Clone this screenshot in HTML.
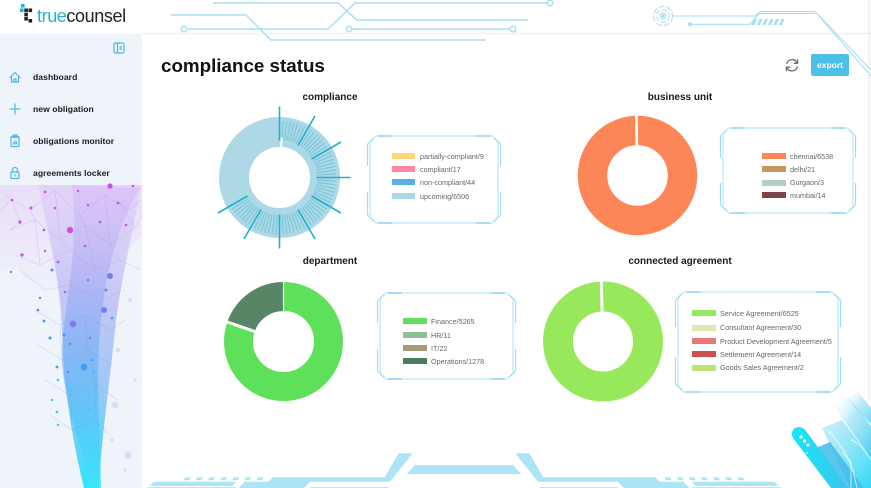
<!DOCTYPE html>
<html><head><meta charset="utf-8">
<style>
*{margin:0;padding:0;box-sizing:border-box}
html,body{width:871px;height:488px;overflow:hidden;background:#fff;font-family:"Liberation Sans",Arial,sans-serif}
#root{position:relative;width:871px;height:488px;background:#fff;overflow:hidden}
.abs{position:absolute;white-space:nowrap}
.nav{position:absolute;left:33px;font-size:8.6px;font-weight:bold;color:#1a1a1a;line-height:10px;letter-spacing:0.05px}
.ct{position:absolute;font-size:10px;font-weight:bold;color:#1a1a1a;line-height:10px;text-align:center;width:200px}
.lg{position:absolute;font-size:7.2px;color:#666;line-height:9px;white-space:nowrap}
.sw{position:absolute;width:24px;height:6px}
</style></head>
<body><div id="root">
<svg class="abs" style="left:0;top:0" width="871" height="488" viewBox="0 0 871 488" xmlns="http://www.w3.org/2000/svg">
<defs>
<linearGradient id="wave" x1="0" y1="0" x2="0" y2="1">
<stop offset="0" stop-color="#c9a0f4" stop-opacity="0.18"/>
<stop offset="0.35" stop-color="#8a86f0" stop-opacity="0.4"/>
<stop offset="0.7" stop-color="#4fa8f4" stop-opacity="0.55"/>
<stop offset="1" stop-color="#22e8fb" stop-opacity="0.95"/>
</linearGradient>
<linearGradient id="wave2" x1="0" y1="0" x2="0" y2="1">
<stop offset="0" stop-color="#b77df0" stop-opacity="0.15"/>
<stop offset="0.5" stop-color="#5c9cf3" stop-opacity="0.4"/>
<stop offset="1" stop-color="#3de6fa" stop-opacity="0.85"/>
</linearGradient>
<linearGradient id="mesh" x1="0" y1="0" x2="0" y2="1">
<stop offset="0" stop-color="#dcb6f5" stop-opacity="0.35"/>
<stop offset="1" stop-color="#dcb6f5" stop-opacity="0"/>
</linearGradient>
<linearGradient id="pill" x1="0" y1="0" x2="1" y2="0">
<stop offset="0" stop-color="#18e6f8"/>
<stop offset="1" stop-color="#3cc4ee"/>
</linearGradient>
<linearGradient id="bandg" x1="0" y1="0" x2="1" y2="1">
<stop offset="0" stop-color="#ffffff" stop-opacity="0"/>
<stop offset="0.45" stop-color="#7fd8f4" stop-opacity="0.7"/>
<stop offset="1" stop-color="#2cc6ef" stop-opacity="1"/>
</linearGradient>
<linearGradient id="bandg2" x1="0" y1="0" x2="1" y2="1">
<stop offset="0" stop-color="#8fdcf5" stop-opacity="0.5"/>
<stop offset="1" stop-color="#18d6f5" stop-opacity="1"/>
</linearGradient>
<g id="st">
<g stroke="#7cc7dc" stroke-width="1.2">
<line x1="0" y1="-37.5" x2="0" y2="-57" transform="rotate(3.75)"/>
<line x1="0" y1="-37.5" x2="0" y2="-57" transform="rotate(7.5)"/>
<line x1="0" y1="-37.5" x2="0" y2="-57" transform="rotate(11.25)"/>
<line x1="0" y1="-37.5" x2="0" y2="-57" transform="rotate(15)"/>
<line x1="0" y1="-37.5" x2="0" y2="-57" transform="rotate(18.75)"/>
<line x1="0" y1="-37.5" x2="0" y2="-57" transform="rotate(22.5)"/>
<line x1="0" y1="-37.5" x2="0" y2="-57" transform="rotate(26.25)"/>
</g>
</g>
<line id="lt" x1="0" y1="-37" x2="0" y2="-71" stroke="#1fb0cc" stroke-width="1.6"/>
</defs>

<!-- sidebar -->
<rect x="0" y="34" width="142" height="454" fill="#eff3fa"/>
<line x1="142" y1="33.5" x2="871" y2="33.5" stroke="#f1f2f4" stroke-width="1.5"/>
<line x1="869" y1="0" x2="869" y2="400" stroke="#e4e4e4" stroke-width="1"/>

<!-- sidebar network wave -->
<g>
<path d="M0,185 L142,185 L142,235 C125,255 105,265 90,300 L40,295 C25,275 12,262 0,272 Z" fill="url(#mesh)"/>
<path d="M38,185 C50,240 60,280 62,330 C63,380 70,430 84,488 L99,488 C101,440 110,380 115,330 C120,280 134,230 141,185 Z" fill="url(#wave)"/>
<path d="M72,185 C82,260 55,330 64,380 C72,430 86,460 90,488 L101,488 C100,430 96,380 100,330 C105,270 120,220 140,188 Z" fill="url(#wave2)"/>
<g stroke="#c07be8" stroke-opacity="0.3" stroke-width="0.6" fill="none">
<path d="M5,195 L30,210 L55,190 L80,215 L105,195 L130,210 L140,200"/>
<path d="M10,230 L35,220 L60,240 L85,225 L110,245 L135,228"/>
<path d="M15,255 L40,265 L70,250 L95,270 L120,260 L140,270"/>
<path d="M30,210 L35,220 L40,265 M55,190 L60,240 L70,250 M80,215 L85,225 L95,270 M105,195 L110,245 L120,260"/>
<path d="M20,270 L45,290 L70,285 L100,300 L125,290"/>
<path d="M0,210 L12,200 L20,222 L10,230 M120,203 L135,228 L142,215"/>
</g>
<g stroke="#6f8ef0" stroke-opacity="0.3" stroke-width="0.6" fill="none">
<path d="M35,310 L60,325 L85,315 L110,330 L125,320"/>
<path d="M38,345 L62,360 L88,350 L112,365"/>
<path d="M45,380 L70,395 L95,385 L118,400"/>
<path d="M50,415 L72,430 L95,420 L110,435"/>
<path d="M60,325 L62,360 L70,395 L72,430 M85,315 L88,350 L95,385 L95,420"/>
</g>
<g fill="#c653e6">
<circle cx="110" cy="186" r="2.6"/><circle cx="45" cy="192" r="1.4"/><circle cx="78" cy="191" r="1.2"/><circle cx="133" cy="186" r="1.3"/>
<circle cx="12" cy="200" r="1.3"/><circle cx="31" cy="208" r="1.5"/><circle cx="55" cy="208" r="1.3"/><circle cx="88" cy="205" r="1.2"/><circle cx="118" cy="203" r="1.4"/>
<circle cx="20" cy="222" r="1.6"/><circle cx="44" cy="230" r="1.3"/><circle cx="70" cy="230" r="3.2"/><circle cx="100" cy="222" r="1.3"/><circle cx="126" cy="225" r="1.3"/>
<circle cx="22" cy="255" r="1.6"/><circle cx="11" cy="272" r="1.2"/><circle cx="45" cy="251" r="1.2"/><circle cx="58" cy="262" r="1.4"/><circle cx="85" cy="246" r="1.3"/>
</g>
<g fill="#7d79ef">
<circle cx="52" cy="270" r="1.5"/><circle cx="65" cy="292" r="1.3"/><circle cx="110" cy="276" r="3"/><circle cx="106" cy="290" r="1.5"/><circle cx="40" cy="298" r="1.2"/><circle cx="88" cy="280" r="1.3"/>
<circle cx="38" cy="310" r="1.3"/><circle cx="73" cy="324" r="3.2"/><circle cx="104" cy="310" r="3"/><circle cx="90" cy="338" r="1.3"/>
</g>
<g fill="#3f9cf4">
<circle cx="44" cy="321" r="1.4"/><circle cx="64" cy="335" r="1.4"/><circle cx="112" cy="318" r="1.3"/><circle cx="50" cy="338" r="1.5"/><circle cx="70" cy="344" r="1.3"/>
<circle cx="84" cy="367" r="3.2"/><circle cx="57" cy="367" r="1.4"/><circle cx="68" cy="372" r="1.2"/><circle cx="92" cy="360" r="1.3"/>
</g>
<g fill="#33cdf7">
<circle cx="58" cy="380" r="1.3"/><circle cx="71" cy="390" r="1.4"/><circle cx="94" cy="372" r="1.5"/><circle cx="90" cy="397" r="1.3"/>
<circle cx="52" cy="400" r="1.2"/><circle cx="57" cy="412" r="1.3"/><circle cx="72" cy="412" r="1.3"/><circle cx="58" cy="425" r="1.2"/><circle cx="90" cy="410" r="1.3"/>
</g>
<g fill="#c9d6f4" fill-opacity="0.7">
<circle cx="115" cy="405" r="3.4"/><circle cx="128" cy="455" r="3.4"/><circle cx="130" cy="300" r="2"/><circle cx="118" cy="350" r="2"/><circle cx="135" cy="380" r="1.6"/><circle cx="112" cy="440" r="1.6"/><circle cx="125" cy="470" r="1.6"/>
</g>
</g>

<!-- sidebar icons -->
<g stroke="#4bb8e2" stroke-width="1.2" fill="none" stroke-linecap="round" stroke-linejoin="round">
<rect x="114" y="43" width="10" height="10" rx="1.5"/>
<line x1="117.5" y1="43" x2="117.5" y2="53"/>
<path d="M121.5,46.3 L119.8,48 L121.5,49.7"/>
<path d="M10,77.5 L15,72.5 L20,77.5 M11.5,76 V82 H18.5 V76 M14,82 V79 H16 V82"/>
<path d="M10,109 H20 M15,104 V114"/>
<rect x="11" y="136.5" width="8" height="10" rx="1"/>
<rect x="13" y="135" width="4" height="2.5" rx="0.5"/>
<path d="M13.5,144 V142.5 M15,144 V141 M16.5,144 V142"/>
<rect x="11" y="172" width="8" height="6.5" rx="1"/>
<path d="M12.5,172 V170 A2.5,2.5 0 0 1 17.5,170 V172"/>
<path d="M15,174.5 V176"/>
</g>

<!-- logo icon -->
<g>
<rect x="21" y="4" width="3.6" height="3.6" fill="#1cb5d8"/>
<rect x="20" y="8.5" width="3.6" height="3.6" fill="#1cb5d8"/>
<rect x="24.3" y="8.5" width="3.6" height="3.6" fill="#222"/>
<rect x="28.5" y="8.5" width="3.6" height="3.6" fill="#222"/>
<rect x="24.3" y="12.8" width="3.6" height="3.6" fill="#222"/>
<rect x="24.3" y="17" width="3.6" height="3.6" fill="#222"/>
<rect x="28.5" y="19" width="3.6" height="3.6" fill="#222"/>
</g>

<!-- header circuits left -->
<g stroke="#a6def5" stroke-width="1.4" fill="none">
<path d="M213,3 H338 L357,20 H528"/>
<path d="M188,29 H328 L355,3 H547"/>
<circle cx="550" cy="3" r="2.8" fill="#fff"/>
<circle cx="184" cy="29" r="2.8" fill="#fff"/>
<path d="M171,15 H246 L271,40 H486"/>
<circle cx="349" cy="29" r="2.8" fill="#fff"/>
<path d="M352,29 H510"/>
<circle cx="513" cy="29" r="2.8" fill="#fff"/>
</g>
<!-- header circuits right -->
<g stroke="#a6def5" fill="none">
<circle cx="663" cy="16" r="9.5" stroke-width="1" stroke-dasharray="6 2"/>
<circle cx="663" cy="16" r="6.2" stroke-width="1" stroke-dasharray="5 2"/>
<circle cx="663" cy="16" r="3" stroke-width="1"/>
<circle cx="663" cy="16" r="1.3" fill="#a6def5"/>
<path d="M673,16 H755 L760,11.5 H815 L871,76" stroke-width="1.1"/>
<path d="M690,24.3 H750 L759,13.5 H817 L871,70" stroke-width="1.1"/>
<circle cx="690" cy="24.3" r="1.6" fill="#a6def5"/>
</g>
<g fill="#a6def5">
<polygon points="754,19 757,19 754.5,25 751.5,25"/>
<polygon points="759.5,19 762.5,19 760,25 757,25"/>
<polygon points="765,19 768,19 765.5,25 762.5,25"/>
<polygon points="770.5,19 773.5,19 771,25 768,25"/>
<polygon points="776,19 779,19 776.5,25 773.5,25"/>
<polygon points="781.5,19 784.5,19 782,25 779,25"/>
</g>

<!-- refresh icon -->
<g stroke="#6f6f6f" stroke-width="1.3" fill="none" stroke-linecap="round" stroke-linejoin="round">
<path d="M786.7,63.5 A5.6,5.6 0 0 1 797.2,63"/>
<path d="M797.6,59.8 V63.3 H794.2"/>
<path d="M797.3,67 A5.6,5.6 0 0 1 786.8,67.5"/>
<path d="M786.4,70.7 V67.2 H789.8"/>
</g>

<!-- compliance donut -->
<g>
<circle cx="279.5" cy="177.5" r="45.5" fill="none" stroke="#add8e6" stroke-width="30"/>
<g transform="translate(279.5,177.5)">
<use href="#st"/><use href="#st" transform="rotate(30)"/><use href="#st" transform="rotate(60)"/><use href="#st" transform="rotate(90)"/>
<use href="#st" transform="rotate(120)"/><use href="#st" transform="rotate(150)"/><use href="#st" transform="rotate(180)"/><use href="#st" transform="rotate(210)"/>
<use href="#lt"/><use href="#lt" transform="rotate(30)"/><use href="#lt" transform="rotate(60)"/><use href="#lt" transform="rotate(90)"/><use href="#lt" transform="rotate(120)"/>
<use href="#lt" transform="rotate(150)"/><use href="#lt" transform="rotate(180)"/><use href="#lt" transform="rotate(210)"/><use href="#lt" transform="rotate(240)"/>
<line x1="0" y1="-30" x2="0" y2="-40" stroke="#fff" stroke-width="2" transform="rotate(3)"/>
</g>
</g>

<!-- business donut -->
<g>
<circle cx="637.5" cy="175.5" r="45" fill="none" stroke="#fc8658" stroke-width="29.5"/>
<line x1="0" y1="-29" x2="0" y2="-62" stroke="#fff" stroke-width="2.6" transform="translate(637.5,175.5) rotate(358.9)"/>
</g>

<!-- department donut -->
<g>
<circle cx="283.5" cy="341.5" r="45" fill="none" stroke="#5ee05a" stroke-width="29" stroke-dasharray="226.35 1000" transform="rotate(-90 283.5 341.5)"/>
<circle cx="283.5" cy="341.5" r="45" fill="none" stroke="#568666" stroke-width="29" stroke-dasharray="54.98 1000" transform="rotate(200 283.5 341.5)"/>
<g transform="translate(283.5,341.5)">
<line x1="0" y1="-29" x2="0" y2="-62" stroke="#fff" stroke-width="3" transform="rotate(289.1)"/>
<line x1="0" y1="-29" x2="0" y2="-62" stroke="#fff" stroke-width="1.2"/>
</g>
</g>

<!-- connected donut -->
<g>
<circle cx="603" cy="341.5" r="45" fill="none" stroke="#97e85b" stroke-width="30"/>
<line x1="0" y1="-29" x2="0" y2="-62" stroke="#fff" stroke-width="3" transform="translate(603,341.5) rotate(358.4)"/>
</g>

<!-- legend frames -->
<g fill="#fff" stroke="#c8ecfa" stroke-width="1.5">
<path d="M376,136 H492 L498,142 V217 L492,223 H376 L370,217 V142 Z"/>
<path d="M729,128 H847 L853,134 V207 L847,213 H729 L723,207 V134 Z"/>
<path d="M386,293 H507 L513,299 V373 L507,379 H386 L380,373 V299 Z"/>
<path d="M684,292 H832 L838,298 V386 L832,392 H684 L678,386 V298 Z"/>
</g>
<g fill="none" stroke="#a3dcf5" stroke-width="1.2">
<path d="M367.5,144 V166 M367.5,192 V215 M500.5,144 V166 M500.5,192 V215 M367.5,144 L374,137.5 M500.5,144 L494,137.5 M367.5,215 L374,221.5 M500.5,215 L494,221.5"/>
<path d="M720.5,136 V158 M720.5,183 V205 M855.5,136 V158 M855.5,183 V205 M720.5,136 L727,129.5 M855.5,136 L849,129.5 M720.5,205 L727,211.5 M855.5,205 L849,211.5"/>
<path d="M377.5,301 V323 M377.5,349 V371 M515.5,301 V323 M515.5,349 V371 M377.5,301 L384,294.5 M515.5,301 L509,294.5 M377.5,371 L384,377.5 M515.5,371 L509,377.5"/>
<path d="M675.5,300 V327 M675.5,357 V384 M840.5,300 V327 M840.5,357 V384 M675.5,300 L682,293.5 M840.5,300 L834,293.5 M675.5,384 L682,390.5 M840.5,384 L834,390.5"/>
</g>
<g stroke="#9fdaf4" stroke-width="1.8">
<path d="M378,136 H392 M476,136 H490 M378,223 H392 M476,223 H490"/>
<path d="M731,128 H745 M831,128 H845 M731,213 H745 M831,213 H845"/>
<path d="M388,293 H402 M491,293 H505 M388,379 H402 M491,379 H505"/>
<path d="M686,292 H700 M816,292 H830 M686,392 H700 M816,392 H830"/>
</g>

<!-- bottom decoration -->
<g id="bdec">
<g fill="#aee4f7">
<polygon points="150,486 153.5,481.7 236,481.7 232.5,486"/>
<polygon points="185.5,477.3 191,477.3 189,480.3 183.5,480.3"/>
<polygon points="197.6,477.3 203.1,477.3 201.1,480.3 195.6,480.3"/>
<polygon points="209.7,477.3 215.2,477.3 213.2,480.3 207.7,480.3"/>
<polygon points="221.9,477.3 227.4,477.3 225.4,480.3 219.9,480.3"/>
<polygon points="234,477.3 239.5,477.3 237.5,480.3 232,480.3"/>
<polygon points="246.1,477.3 251.6,477.3 249.6,480.3 244.1,480.3"/>
<polygon points="258.2,477.3 263.7,477.3 261.7,480.3 256.2,480.3"/>
<polygon points="238.5,488 244.5,481.7 268.2,481.7 272.9,477.3 384.8,477.3 398.7,453.3 412.7,453.3 390,481.7 310,481.7 304,488"/>
</g>
<g stroke="#b8e8f8" stroke-width="1" fill="none">
<path d="M147,487.5 H236 M310,487.5 H388"/>
</g>
</g>
<use href="#bdec" transform="matrix(-1 0 0 1 928 0)"/>
<polygon points="415,465 513,465 521.3,474 406.7,474" fill="#aee4f7"/>

<!-- bottom right cyan -->
<g>
<polygon points="832,404 848,396 871,426 871,458" fill="url(#bandg)" opacity="0.85"/>
<polygon points="846,398 858,392 871,408 871,424" fill="url(#bandg)" opacity="0.7"/>
<polygon points="822,428 842,420 871,458 871,488 850,488" fill="url(#bandg2)" opacity="0.9"/>
<polygon points="816,448 830,442 864,488 846,488" fill="#3fbde9" opacity="0.85"/>
<path d="M795,428 Q790,432 793,438 L831,488 L848,488 L806,431 Q801,425 795,428 Z" fill="url(#pill)"/>
<g fill="#fff">
<circle cx="801" cy="437" r="1.6"/><circle cx="804.5" cy="441" r="1.6"/><circle cx="808" cy="445" r="1.6"/><circle cx="807" cy="453" r="0.9"/>
<circle cx="830" cy="432" r="0.9"/><circle cx="852" cy="440" r="0.9"/>
</g>
<g stroke="#ffffff" stroke-opacity="0.85" stroke-width="0.8" fill="none">
<path d="M830,432 L845,452 L853,470 L857,488"/>
<path d="M842,452 L851,462 V488"/>
<path d="M852,440 L860,445 L871,460"/>
</g>
</g>
</svg>

<!-- logo text -->
<div class="abs" style="left:37px;top:6.8px;font-size:18px;line-height:18px;letter-spacing:-0.4px;"><span style="color:#1cb5d8">true</span><span style="color:#222">counsel</span></div>

<!-- nav -->
<div class="nav" style="top:72px">dashboard</div>
<div class="nav" style="top:104px">new obligation</div>
<div class="nav" style="top:136px">obligations monitor</div>
<div class="nav" style="top:168px">agreements locker</div>

<!-- title -->
<div class="abs" style="left:161px;top:57px;font-size:18.8px;line-height:18.8px;font-weight:bold;color:#111">compliance status</div>

<!-- export -->
<div class="abs" style="left:811px;top:54px;width:38px;height:22px;background:#4dc1e5;border-radius:2px;color:#fff;font-size:8.5px;font-weight:bold;line-height:22px;text-align:center">export</div>

<!-- chart titles -->
<div class="ct" style="left:230px;top:93px">compliance</div>
<div class="ct" style="left:580px;top:93px">business unit</div>
<div class="ct" style="left:230px;top:257px">department</div>
<div class="ct" style="left:580px;top:257px">connected agreement</div>

<!-- compliance legend -->
<div class="sw" style="left:392px;top:153px;width:23px;background:#ffd77a"></div><div class="lg" style="left:420px;top:151.5px">partially-compliant/9</div>
<div class="sw" style="left:392px;top:166px;width:23px;background:#ff87a2"></div><div class="lg" style="left:420px;top:164.5px">compliant/17</div>
<div class="sw" style="left:392px;top:179px;width:23px;background:#5aafe8"></div><div class="lg" style="left:420px;top:177.5px">non-compliant/44</div>
<div class="sw" style="left:392px;top:193px;width:23px;background:#add8e6"></div><div class="lg" style="left:420px;top:191.5px">upcoming/6506</div>

<!-- business legend -->
<div class="sw" style="left:762px;top:153px;background:#fc8658"></div><div class="lg" style="left:790px;top:151.5px">chennai/6538</div>
<div class="sw" style="left:762px;top:166px;background:#c9955f"></div><div class="lg" style="left:790px;top:164.5px">delhi/21</div>
<div class="sw" style="left:762px;top:179.5px;background:#b3cfc4"></div><div class="lg" style="left:790px;top:178px">Gurgaon/3</div>
<div class="sw" style="left:762px;top:192px;background:#7a4648"></div><div class="lg" style="left:790px;top:190.5px">mumbai/14</div>

<!-- department legend -->
<div class="sw" style="left:403px;top:318px;background:#5ee05a"></div><div class="lg" style="left:431px;top:316.5px">Finance/5265</div>
<div class="sw" style="left:403px;top:332px;background:#8fbf99"></div><div class="lg" style="left:431px;top:330.5px">HR/11</div>
<div class="sw" style="left:403px;top:345px;background:#a89a7c"></div><div class="lg" style="left:431px;top:343.5px">IT/22</div>
<div class="sw" style="left:403px;top:358px;background:#4f7d5c"></div><div class="lg" style="left:431px;top:356.5px">Operations/1278</div>

<!-- connected legend -->
<div class="sw" style="left:692px;top:310px;background:#97e85b"></div><div class="lg" style="left:720px;top:308.5px">Service Agreement/6525</div>
<div class="sw" style="left:692px;top:324.5px;background:#dde8b0"></div><div class="lg" style="left:720px;top:323px">Consultant Agreement/30</div>
<div class="sw" style="left:692px;top:338px;background:#e57b78"></div><div class="lg" style="left:720px;top:336.5px">Product Development Agreement/5</div>
<div class="sw" style="left:692px;top:351px;background:#cd5050"></div><div class="lg" style="left:720px;top:349.5px">Settlement Agreement/14</div>
<div class="sw" style="left:692px;top:364.5px;background:#c2e07a"></div><div class="lg" style="left:720px;top:363px">Goods Sales Agreement/2</div>

</div></body></html>
